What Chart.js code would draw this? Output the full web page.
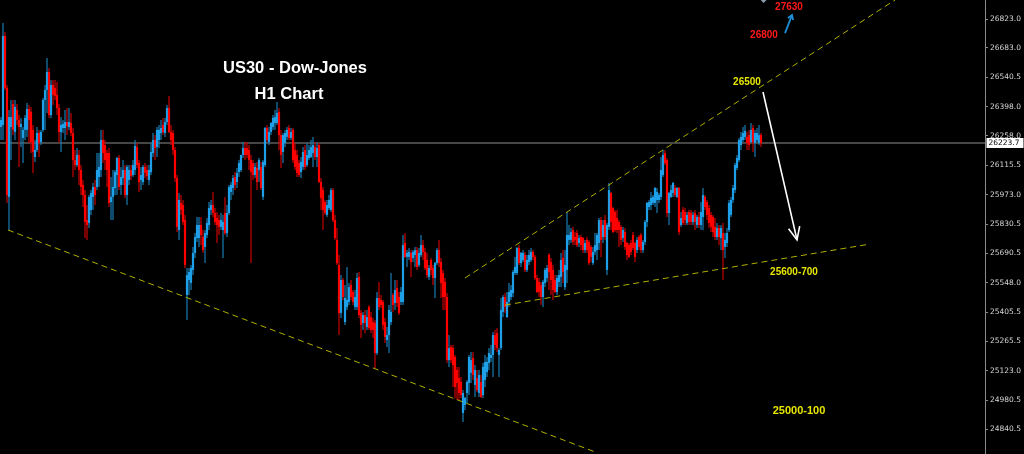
<!DOCTYPE html>
<html><head><meta charset="utf-8">
<script src="https://cdn.jsdelivr.net/npm/chart.js@4.4.1/dist/chart.umd.min.js"></script>
<style>html,body{margin:0;padding:0;background:#000;overflow:hidden}#wrap{width:1024px;height:454px}</style>
</head><body><div id="wrap"><canvas id="c" width="1024" height="454"></canvas></div>
<script>
const opens = [
26301,26311,26741,26490,25963,26301,26412,26277,26383,26335,
26301,26248,26287,26287,26388,26374,26287,26156,26190,26272,
26228,26287,26432,26480,26567,26359,26504,26490,26456,26393,
26277,26296,26296,26325,26301,26320,26272,26141,26117,26166,
26093,26021,25972,25851,25837,25900,25963,26011,26011,26059,
26093,26238,26214,26175,26175,25938,25963,26006,26069,26151,
26021,26054,26093,25972,26045,26093,26069,26093,26204,26127,
26045,26035,26108,26093,26045,26083,26175,26238,26204,26238,
26272,26311,26272,26325,26393,26277,26272,26190,26054,25803,
25934,25924,25851,25489,25561,25547,25610,25692,25764,25764,
25827,25769,25721,25779,25827,25900,25924,25885,25861,25851,
25818,25803,25885,25788,25885,25987,26006,26059,26035,26083,
26093,26166,26199,26199,26190,26141,26127,26069,26103,26093,
26108,25963,26117,26296,26228,26277,26301,26320,26320,26374,
26262,26180,26224,26253,26296,26248,26287,26190,26166,26127,
26083,26108,26190,26117,26151,26156,26175,26204,26156,26214,
26035,25996,25938,25876,25909,25900,25996,25851,25755,25634,
25402,25561,25358,25431,25455,25537,25503,25431,25431,25576,
25402,25353,25392,25334,25431,25382,25358,25353,25208,25474,
25465,25455,25358,25271,25295,25358,25489,25450,25523,25479,
25455,25455,25740,25673,25673,25692,25668,25682,25706,25634,
25682,25730,25697,25658,25576,25658,25619,25571,25643,25706,
25648,25595,25552,25479,25174,25237,25232,25189,25126,25087,
25068,24918,24957,25015,25063,25112,25184,25054,25087,25015,
25068,25005,25078,25116,25160,25184,25199,25295,25305,25199,
25232,25407,25479,25382,25455,25479,25498,25595,25595,25716,
25643,25658,25682,25610,25648,25658,25697,25673,25571,25552,
25537,25479,25547,25571,25682,25648,25610,25561,25503,25552,
25576,25668,25527,25610,25755,25755,25803,25769,25788,25740,
25769,25764,25706,25755,25745,25721,25643,25697,25706,25740,
25851,25769,25851,25610,25818,25982,25909,25890,25861,25842,
25818,25764,25793,25740,25730,25740,25779,25740,25706,25769,
25779,25706,25745,25842,25914,25924,25934,25934,25948,25948,
25963,26069,26175,26141,25885,25963,25982,26006,25963,26006,
25827,25900,25890,25837,25890,25885,25842,25885,25827,25866,
25827,25866,25963,25938,25909,25876,25866,25818,25769,25813,
25764,25788,25721,25740,25803,25876,25948,25996,26103,26141,
26214,26238,26253,26253,26262,26228,26296,26224,26238,26224,26262];
const highs = [
26349,26804,26760,26504,26383,26432,26432,26432,26412,26359,
26345,26301,26359,26417,26407,26398,26311,26238,26301,26287,
26287,26441,26504,26635,26586,26528,26528,26528,26519,26412,
26349,26335,26383,26393,26393,26369,26296,26190,26199,26190,
26117,26045,25996,25924,25972,25996,26030,26045,26175,26175,
26287,26287,26238,26190,26199,26059,26093,26093,26156,26166,
26108,26141,26117,26117,26117,26117,26141,26238,26224,26141,
26108,26117,26127,26117,26117,26224,26272,26262,26301,26311,
26335,26345,26345,26407,26451,26311,26287,26204,26069,25982,
25972,25948,25876,25619,25619,25634,25721,25788,25866,25866,
25866,25803,25803,25861,25938,25948,25987,25909,25890,25876,
25885,25876,25963,25924,26021,26035,26069,26083,26103,26141,
26166,26228,26228,26228,26214,26166,26141,26127,26132,26151,
26132,26141,26301,26311,26301,26325,26359,26383,26422,26393,
26287,26272,26287,26301,26311,26296,26296,26224,26190,26141,
26156,26204,26214,26224,26214,26238,26253,26228,26224,26224,
26054,26011,25948,25948,25972,26006,26006,25876,25813,25682,
25585,25571,25537,25624,25547,25561,25513,25513,25595,25600,
25416,25407,25416,25416,25440,25407,25378,25368,25503,25552,
25489,25465,25378,25334,25440,25595,25498,25561,25561,25503,
25527,25779,25788,25706,25716,25706,25706,25721,25721,25716,
25779,25755,25716,25692,25634,25668,25634,25648,25716,25755,
25668,25610,25571,25498,25295,25247,25247,25199,25141,25141,
25092,25029,24995,25078,25199,25213,25213,25150,25126,25126,
25102,25160,25199,25189,25232,25247,25310,25320,25329,25232,
25474,25489,25498,25503,25547,25537,25610,25673,25721,25730,
25697,25706,25697,25682,25706,25716,25706,25682,25585,25571,
25552,25561,25619,25634,25692,25668,25634,25585,25585,25610,
25692,25706,25706,25890,25827,25813,25818,25793,25803,25779,
25779,25769,25755,25769,25755,25730,25721,25788,25788,25861,
25866,25851,25876,25837,26030,25987,25914,25900,25900,25851,
25827,25818,25813,25745,25740,25755,25793,25745,25769,25779,
25788,25755,25851,25938,25948,25987,25972,26011,26006,25982,
26156,26190,26190,26151,25987,26021,26035,26021,26011,26011,
25890,25914,25909,25890,25900,25900,25890,25900,25876,25890,
25938,26006,25972,25948,25924,25890,25876,25861,25837,25827,
25827,25837,25788,25813,25948,25963,26021,26127,26166,26248,
26277,26301,26311,26277,26287,26320,26311,26287,26296,26311,26272];
const lows = [
26238,26238,26480,25934,25803,26141,26262,26238,26311,26108,
26204,26127,26238,26253,26224,26175,26079,26132,26180,26156,
26214,26277,26287,26369,26345,26345,26407,26432,26359,26224,
26180,26272,26238,26262,26287,26258,26059,26093,26108,26021,
25972,25914,25764,25755,25813,25876,25900,25924,25996,26011,
26059,26127,26093,26011,25914,25851,25851,25972,25972,25996,
25972,26021,25958,25924,26021,26045,26059,26069,26103,25987,
25996,26021,26054,26045,26021,26069,26156,26141,26156,26199,
26238,26262,26253,26311,26272,26214,26166,26035,25793,25755,
25876,25827,25619,25368,25489,25513,25585,25668,25745,25721,
25730,25692,25643,25764,25803,25876,25866,25827,25740,25779,
25803,25668,25779,25769,25876,25948,25972,25996,26006,26059,
26083,26151,26141,26151,26093,25643,26045,26054,25996,26035,
25996,25948,26108,26228,26214,26262,26287,26287,26311,26190,
26103,26127,26204,26238,26238,26238,26127,26093,26059,26059,
26054,26093,26093,26108,26141,26151,26108,26141,26108,26030,
25900,25803,25876,25866,25900,25890,25842,25755,25634,25295,
25378,25465,25344,25416,25440,25465,25440,25416,25416,25378,
25281,25320,25305,25320,25320,25305,25281,25135,25199,25416,
25426,25320,25257,25237,25208,25344,25407,25416,25431,25392,
25440,25440,25668,25624,25658,25576,25648,25624,25610,25624,
25673,25658,25610,25571,25561,25585,25537,25474,25634,25624,
25474,25416,25416,25160,25140,25160,25044,24990,24981,24981,
24991,24875,24933,24966,25005,25063,25078,24996,25020,24996,
24991,24991,25044,25092,25126,25165,25092,25223,25213,25092,
25223,25382,25402,25378,25431,25465,25479,25585,25585,25634,
25624,25648,25600,25600,25634,25648,25658,25561,25498,25479,
25440,25431,25527,25552,25513,25489,25465,25498,25489,25527,
25527,25547,25513,25547,25730,25740,25730,25730,25721,25721,
25706,25692,25692,25692,25634,25648,25634,25682,25658,25706,
25673,25740,25755,25585,25803,25803,25788,25793,25788,25721,
25730,25745,25706,25658,25668,25682,25706,25648,25692,25706,
25692,25692,25730,25818,25900,25900,25924,25914,25885,25934,
25948,26059,26117,25866,25827,25958,25963,25963,25958,25779,
25818,25827,25827,25827,25827,25827,25827,25803,25813,25813,
25803,25803,25900,25851,25813,25793,25769,25755,25755,25730,
25706,25561,25668,25721,25793,25866,25934,25982,26093,26132,
26190,26228,26238,26190,26190,26224,26180,26156,26228,26214,26204];
const closes = [
26335,26741,26490,25972,26349,26349,26287,26398,26335,26301,
26316,26287,26345,26388,26335,26228,26180,26190,26272,26224,
26277,26432,26480,26567,26359,26504,26456,26451,26393,26277,
26311,26316,26325,26306,26325,26272,26141,26117,26166,26093,
26011,25972,25842,25827,25963,25982,26011,25972,26093,26108,
26238,26175,26141,26093,25934,25963,26011,26083,26151,26011,
26059,26093,25972,26108,26093,26064,26117,26209,26117,26035,
26069,26108,26079,26064,26093,26180,26238,26199,26287,26287,
26296,26277,26325,26393,26277,26238,26190,26054,25818,25948,
25900,25842,25634,25585,25600,25619,25692,25769,25827,25827,
25779,25706,25788,25837,25909,25924,25885,25842,25827,25818,
25851,25842,25788,25885,26011,26021,26054,26021,26079,26127,
26166,26199,26166,26166,26141,26083,26069,26108,26035,26141,
26006,26132,26296,26238,26277,26320,26345,26349,26369,26262,
26166,26262,26272,26287,26248,26277,26141,26108,26079,26069,
26132,26180,26108,26166,26190,26204,26214,26156,26199,26035,
25958,25900,25885,25924,25948,25996,25851,25764,25643,25401,
25561,25479,25474,25465,25527,25479,25455,25479,25571,25392,
25344,25392,25353,25382,25329,25320,25320,25208,25474,25431,
25440,25344,25286,25295,25416,25407,25440,25513,25450,25402,
25503,25730,25673,25692,25697,25648,25697,25706,25624,25692,
25730,25697,25619,25585,25619,25610,25571,25643,25706,25643,
25547,25479,25479,25174,25232,25174,25150,25044,25063,25015,
25005,25015,24991,25068,25189,25174,25102,25126,25029,25102,
24996,25141,25165,25165,25208,25199,25295,25247,25232,25223,
25416,25479,25431,25455,25503,25513,25600,25624,25716,25643,
25692,25692,25610,25658,25682,25697,25673,25571,25503,25503,
25479,25552,25610,25619,25600,25561,25513,25503,25571,25585,
25658,25600,25634,25779,25779,25793,25745,25755,25730,25764,
25730,25706,25740,25706,25643,25673,25697,25730,25779,25851,
25755,25827,25769,25827,25996,25842,25793,25803,25803,25803,
25755,25803,25721,25682,25673,25697,25716,25673,25755,25721,
25706,25745,25842,25934,25938,25958,25963,26006,25987,25972,
26093,26166,26127,25885,25982,25996,26030,25972,26006,25793,
25861,25837,25851,25876,25842,25842,25876,25842,25866,25827,
25890,25972,25914,25876,25837,25818,25793,25769,25813,25769,
25813,25706,25755,25788,25934,25948,26006,26117,26151,26238,
26253,26272,26282,26224,26214,26287,26228,26272,26272,26262,26223.7];

const yTicks = [26823.0, 26683.0, 26540.5, 26398.0, 26258.0, 26115.5, 25973.0, 25830.5, 25690.5, 25548.0, 25405.5, 25265.5, 25123.0, 24980.5, 24840.5];
const lastPrice = 26223.7;
// trend lines: [candle index, price] pairs
const trendLower = [[3.5, 25803], [297, 24730]];
const trendUpper = [[232, 25571], [447, 26915]];
const trendSupport = [[252, 25440], [434.5, 25735]];
// annotation texts: [text, candle index, price]
const noteTexts = ['US30 - Dow-Jones', 'H1 Chart', '26500', '26800', '27630', '25600-700', '25000-100'];
const noteIdx = [147, 144, 373, 381.5, 394, 396.5, 399];
const notePrice = [26586, 26456, 26519, 26746, 26881, 25600, 24928];

if (opens.length !== 381 || highs.length !== 381 || lows.length !== 381 || closes.length !== 381) {
  throw new Error('lengths ' + opens.length + ' ' + highs.length + ' ' + lows.length + ' ' + closes.length);
}

const noteStyle = [
  {c:'#ffffff', f:'bold 16.5px "Liberation Sans"'},
  {c:'#ffffff', f:'bold 16.5px "Liberation Sans"'},
  {c:'#e6e600', f:'bold 10px "Liberation Sans"'},
  {c:'#ff1a1a', f:'bold 10px "Liberation Sans"'},
  {c:'#ff1a1a', f:'bold 10px "Liberation Sans"'},
  {c:'#e6e600', f:'bold 10px "Liberation Sans"'},
  {c:'#e6e600', f:'bold 11px "Liberation Sans"'}
];

const BLUE = '#1ea0e8', RED = '#ff0000';
const WBLUE = '#167cb4', WRED = '#c80000';
const colors = opens.map((o, i) => closes[i] >= o ? BLUE : RED);
const wickColors = opens.map((o, i) => closes[i] >= o ? WBLUE : WRED);

const bgPlugin = {
  id: 'bg',
  beforeDraw(chart) {
    const c = chart.ctx; c.save(); c.fillStyle = '#000'; c.fillRect(0, 0, chart.width, chart.height); c.restore();
  },
  beforeDatasetsDraw(chart) {
    const {ctx, chartArea, scales} = chart;
    const py = scales.y.getPixelForValue(lastPrice);
    ctx.save();
    ctx.strokeStyle = '#5e5e5e'; ctx.lineWidth = 1.3;
    ctx.beginPath(); ctx.moveTo(chartArea.left, py); ctx.lineTo(chartArea.right, py); ctx.stroke();
    ctx.restore();
  }
};

function arrow(ctx, x1, y1, x2, y2, head, ang, color, w) {
  ctx.strokeStyle = color; ctx.lineWidth = w;
  ctx.beginPath(); ctx.moveTo(x1, y1); ctx.lineTo(x2, y2); ctx.stroke();
  const a = Math.atan2(y2 - y1, x2 - x1);
  ctx.beginPath();
  ctx.moveTo(x2 - head * Math.cos(a - ang), y2 - head * Math.sin(a - ang));
  ctx.lineTo(x2, y2);
  ctx.lineTo(x2 - head * Math.cos(a + ang), y2 - head * Math.sin(a + ang));
  ctx.stroke();
}

const annPlugin = {
  id: 'ann',
  afterDraw(chart) {
    const {ctx, scales} = chart; const X = scales.x, Y = scales.y;
    ctx.save();
    ctx.textAlign = 'center'; ctx.textBaseline = 'middle';
    noteTexts.forEach((t, k) => {
      ctx.font = noteStyle[k].f; ctx.fillStyle = noteStyle[k].c;
      ctx.fillText(t, X.getPixelForValue(noteIdx[k]), Y.getPixelForValue(notePrice[k]));
    });
    arrow(ctx, X.getPixelForValue(381), Y.getPixelForValue(26470), X.getPixelForValue(398), Y.getPixelForValue(25755), 14, 0.42, '#ffffff', 1.6);
    arrow(ctx, X.getPixelForValue(392), Y.getPixelForValue(26755), X.getPixelForValue(395.5), Y.getPixelForValue(26842), 5, 0.6, '#1e90d8', 1.8);
    const dx = X.getPixelForValue(381.3), dy = Y.getPixelForValue(26920);
    ctx.fillStyle = '#8c9bb0';
    ctx.beginPath(); ctx.moveTo(dx, dy - 4); ctx.lineTo(dx + 4, dy); ctx.lineTo(dx, dy + 4); ctx.lineTo(dx - 4, dy); ctx.closePath(); ctx.fill();
    const py = Y.getPixelForValue(lastPrice);
    ctx.fillStyle = '#ffffff';
    ctx.fillRect(Y.left + 1.5, py - 5, 37, 10);
    ctx.fillStyle = '#000000'; ctx.textAlign = 'left';
    ctx.font = '7.5px "DejaVu Sans"';
    ctx.fillText(lastPrice.toFixed(1), Y.left + 3.5, py + 0.5);
    ctx.restore();
  }
};

const lineDs = (pts) => ({
  type: 'line',
  data: pts.map(p => ({x: p[0], y: p[1]})),
  borderColor: '#b0b000', borderWidth: 1, borderDash: [6, 4],
  pointRadius: 0, fill: false, order: 1
});

new Chart(document.getElementById('c'), {
  type: 'bar',
  data: {
    datasets: [
      { label: 'wick', data: highs.map((h, i) => ({x: i, y: [lows[i], h]})), backgroundColor: wickColors,
        barThickness: 1.2, grouped: false, order: 3, inflateAmount: 0, borderWidth: 0 },
      { label: 'body', data: opens.map((o, i) => ({x: i, y: [o, closes[i]]})), backgroundColor: colors,
        barThickness: 2.2, grouped: false, order: 2, inflateAmount: 0, borderWidth: 0, minBarLength: 1 },
      lineDs(trendLower), lineDs(trendUpper), lineDs(trendSupport)
    ]
  },
  options: {
    responsive: false, animation: false, devicePixelRatio: 1,
    layout: { padding: 0 },
    plugins: { legend: { display: false }, tooltip: { enabled: false } },
    scales: {
      x: { type: 'linear', display: false, offset: false, bounds: 'ticks', min: -0.5, max: 492, grid: { offset: false } },
      y: {
        position: 'right', min: 24719.9, max: 26915,
        afterBuildTicks: (s) => { s.ticks = yTicks.map(v => ({value: v})); },
        afterFit: (s) => { s.width = 39; s.paddingTop = 0; s.paddingBottom = 0; },
        ticks: { autoSkip: false, padding: 2, color: '#d4d4d4', font: { family: 'DejaVu Sans', size: 7.5 },
                 callback: (v) => Number(v).toFixed(1) },
        grid: { drawOnChartArea: false, drawTicks: true, tickLength: 3, color: '#8a8a8a' },
        border: { display: true, color: '#8a8a8a', width: 1 }
      }
    }
  },
  plugins: [bgPlugin, annPlugin]
});
</script></body></html>
